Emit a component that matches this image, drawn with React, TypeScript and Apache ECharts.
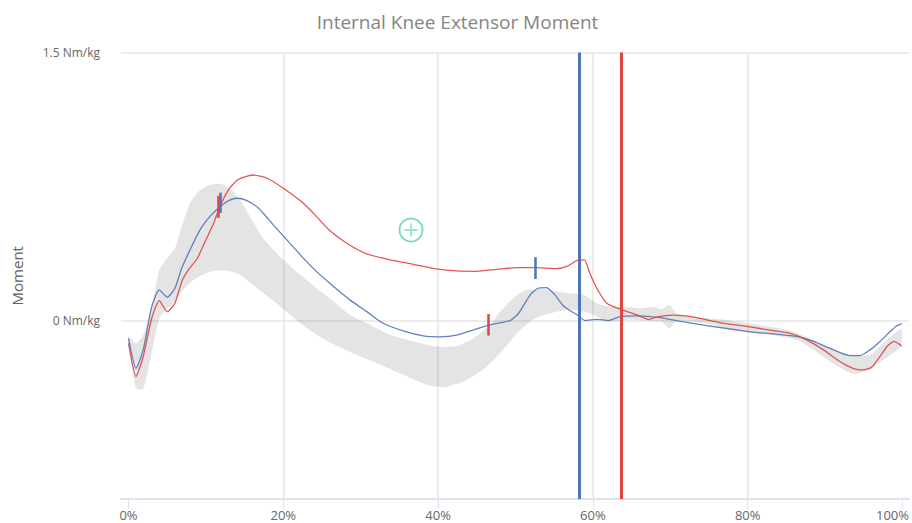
import React, { useEffect, useRef } from "react";
import * as echarts from "echarts";

const chartTitle = "Internal Knee Extensor Moment";
const yTitle = "Moment";
const xTicks = [0, 20, 40, 60, 80, 100];
const xLabelValues = [0, 20, 40, 60, 80];
const lastXLabel = "100%";
const yLabelValues = [0, 1.5];
const yGridValues = [-1, 0, 1.5];

const blueX = [0, 0.97, 1.9, 3, 3.98, 5, 6, 6.87, 7.95, 9.24, 10.5, 11.6, 12.7, 14, 15.3, 16.8, 19.1, 22.2, 24.3, 26, 28.6, 30.8, 32.9, 35.5, 38.1, 40.2, 42.4, 44.6, 46.5, 49.3, 50.4, 51.9, 52.9, 54, 55.1, 56.2, 58.1, 59, 60.5, 62, 63.5, 65.7, 68.7, 71.3, 74.7, 79.9, 83.3, 86.3, 88.5, 91.1, 93.2, 94.5, 95.8, 97.1, 98.4, 99.2, 99.9];
const blueY = [-0.1, -0.268, -0.165, 0.077, 0.171, 0.13, 0.18, 0.292, 0.395, 0.507, 0.581, 0.628, 0.665, 0.684, 0.671, 0.628, 0.516, 0.367, 0.273, 0.208, 0.115, 0.049, -0.016, -0.059, -0.087, -0.092, -0.083, -0.053, -0.027, -0.001, 0.04, 0.143, 0.18, 0.184, 0.143, 0.081, 0.027, -0.001, 0.006, -0.001, 0.021, 0.025, 0.016, -0.006, -0.029, -0.061, -0.076, -0.09, -0.118, -0.165, -0.197, -0.197, -0.165, -0.118, -0.062, -0.031, -0.018];

const redX = [0, 0.97, 1.9, 3, 3.98, 5, 6, 6.87, 7.73, 8.9, 9.9, 11, 11.8, 12.9, 14.2, 16.1, 17.9, 20, 22.6, 24.3, 26, 28.2, 30.8, 33.8, 36.8, 39.8, 42.4, 45, 47.6, 50.2, 52.7, 55.3, 56.8, 57.9, 58.9, 59.6, 60.5, 61.8, 63.5, 65.7, 67.2, 68.2, 70.4, 73, 76.4, 79.9, 83.3, 85.5, 87.6, 89.8, 91.9, 93.6, 94.9, 96, 97.1, 98, 98.9, 99.9];
const redY = [-0.128, -0.314, -0.202, 0.012, 0.111, 0.049, 0.096, 0.217, 0.283, 0.348, 0.441, 0.544, 0.637, 0.73, 0.79, 0.814, 0.796, 0.74, 0.656, 0.581, 0.503, 0.432, 0.372, 0.339, 0.314, 0.288, 0.277, 0.275, 0.286, 0.296, 0.296, 0.29, 0.305, 0.335, 0.339, 0.264, 0.18, 0.096, 0.063, 0.031, 0.006, 0.018, 0.029, 0.018, -0.012, -0.034, -0.057, -0.072, -0.109, -0.165, -0.23, -0.268, -0.277, -0.262, -0.202, -0.146, -0.118, -0.143];

const bandUpperX = [0, 0.97, 1.9, 3, 3.98, 5.15, 6, 6.87, 7.95, 9, 10.5, 12, 13.3, 14.4, 15.7, 17.4, 19.6, 22.2, 24.3, 26, 28.6, 31.2, 33.8, 36.8, 39.8, 42.4, 44.6, 46.7, 48, 49.7, 51.4, 53.6, 56.2, 58.8, 60.5, 62.2, 64.8, 66.1, 67.8, 68.9, 69.9, 70.8, 73, 76.4, 79.9, 83.3, 85.9, 88, 90.6, 93.2, 95.8, 97.5, 99.8];
const bandUpperY = [-0.09, -0.128, -0.081, 0.077, 0.283, 0.357, 0.404, 0.525, 0.656, 0.721, 0.758, 0.764, 0.73, 0.674, 0.581, 0.46, 0.357, 0.255, 0.18, 0.124, 0.031, -0.025, -0.081, -0.118, -0.146, -0.143, -0.1, -0.025, 0.049, 0.124, 0.171, 0.174, 0.156, 0.143, 0.096, 0.077, 0.074, 0.068, 0.077, 0.063, 0.087, 0.04, 0.021, 0.006, -0.016, -0.038, -0.062, -0.1, -0.156, -0.193, -0.193, -0.128, -0.049];

const bandLowerX = [0, 0.97, 1.9, 2.8, 4.07, 5.8, 6.87, 8.4, 10.5, 12.7, 14.4, 16.6, 19.1, 22.2, 24.3, 26, 29, 32.1, 35.5, 38.5, 40.7, 43.3, 45.8, 48, 50.2, 52.3, 54.5, 57, 59.6, 61.8, 64.8, 66.1, 67.8, 68.9, 69.9, 70.8, 73, 76.4, 79.9, 83.3, 86.3, 88.5, 90.6, 93.6, 95.8, 97.5, 99.8];
const bandLowerY = [-0.137, -0.38, -0.385, -0.221, 0.021, 0.096, 0.161, 0.227, 0.273, 0.279, 0.255, 0.18, 0.096, -0.016, -0.081, -0.124, -0.184, -0.24, -0.305, -0.361, -0.374, -0.342, -0.277, -0.184, -0.072, 0.006, 0.04, 0.059, 0.04, -0.006, 0.003, -0.001, -0.006, -0.006, -0.044, -0.006, -0.006, -0.034, -0.068, -0.083, -0.109, -0.165, -0.23, -0.299, -0.277, -0.221, -0.146];

const blueCursor = 58.2;
const redCursor = 63.7;
const blueMarks = [
  { x: 11.8, from: 0.602, to: 0.715 },
  { x: 52.6, from: 0.232, to: 0.354 },
];
const redMarks = [
  { x: 11.6, from: 0.574, to: 0.697 },
  { x: 46.5, from: -0.085, to: 0.036 },
];
const addPoint = [36.5, 0.506];

const BLUE = "#4f74b8";
const RED = "#e2443f";
const zip = (xs: number[], ys: number[]) => xs.map((x, i) => [x, ys[i]]);
const markData = (marks: { x: number; from: number; to: number }[]) =>
  marks.map((m) => [{ coord: [m.x, m.from] }, { coord: [m.x, m.to] }]);

export default function App() {
  const ref = useRef<HTMLDivElement>(null);
  useEffect(() => {
    const chart = echarts.init(ref.current!, null, { renderer: "svg" });
    const bandPoints = [...zip(bandUpperX, bandUpperY), ...zip(bandLowerX, bandLowerY).reverse()];
    const lineOf = (name: string, xs: number[], ys: number[], color: string, marks: any[], cursor: number) => ({
      name,
      type: "line",
      data: zip(xs, ys),
      showSymbol: false,
      smooth: 0.2,
      silent: true,
      z: 4,
      lineStyle: { color, width: 1.3, opacity: 0.9 },
      markLine: {
        silent: true,
        symbol: "none",
        animation: false,
        label: { show: false },
        lineStyle: { type: "solid", color },
        data: [
          ...markData(marks).map((d) => d.map((e, i) => (i === 0 ? { ...e, lineStyle: { width: 2.5, color, type: "solid" } } : e))),
          { xAxis: cursor, lineStyle: { width: 3, color, type: "solid" } },
        ],
      },
    });
    chart.setOption({
      animation: false,
      backgroundColor: "#ffffff",
      title: {
        text: chartTitle,
        left: 452.5,
        top: 7,
        textAlign: "center",
        textStyle: { color: "#858585", fontFamily: "Open Sans", fontSize: 19, fontWeight: "normal" },
      },
      graphic: [
        {
          type: "text",
          x: 909,
          y: 508,
          style: { text: lastXLabel, textAlign: "right", fill: "#666666", font: "13px 'Open Sans'" },
        },
      ],
      grid: { left: 121, right: 3, top: 52.5, bottom: 24, outerBoundsMode: "none" },
      xAxis: {
        type: "value",
        min: -0.97,
        max: 100.84,
        axisLine: { show: true, onZero: false, lineStyle: { color: "#dce3f0", width: 2 } },
        axisTick: { show: true, length: 10, customValues: xTicks, lineStyle: { color: "#dce3f0", width: 1 } },
        axisLabel: {
          customValues: xLabelValues,
          formatter: (v: number) => `${v}%`,
          color: "#666666",
          fontFamily: "Open Sans",
          fontSize: 13,
          margin: 9,
          showMinLabel: true,
          showMaxLabel: true,
        },
        splitLine: { show: true, showMinLine: false, showMaxLine: false, lineStyle: { color: "#e6e6e6", width: 1.5 } },
      },
      yAxis: {
        type: "value",
        min: -1,
        max: 1.5,
        name: yTitle,
        nameLocation: "middle",
        nameGap: 97,
        nameRotate: 90,
        nameTextStyle: { color: "#5f5f5f", fontFamily: "Open Sans", fontSize: 15 },
        axisLine: { show: false },
        axisTick: { show: false, customValues: yGridValues },
        axisLabel: {
          customValues: yLabelValues,
          formatter: (v: number) => `${v} Nm/kg`,
          color: "#666666",
          fontFamily: "Open Sans",
          fontSize: 12,
          margin: 21,
          showMinLabel: true,
          showMaxLabel: true,
        },
        splitLine: { show: true, showMinLine: false, lineStyle: { color: "#e6e6e6", width: 1.5 } },
      },
      series: [
        {
          name: "Normal band",
          type: "custom",
          silent: true,
          z: 2,
          data: [addPoint],
          renderItem: (_p: any, api: any) => ({
            type: "polygon",
            shape: { points: bandPoints.map((p) => api.coord(p)), smooth: 0.2 },
            style: { fill: "rgba(0,0,0,0.105)" },
          }),
        },
        lineOf("Blue", blueX, blueY, BLUE, blueMarks, blueCursor),
        lineOf("Red", redX, redY, RED, redMarks, redCursor),
        {
          name: "Add ring",
          type: "scatter",
          silent: true,
          z: 5,
          data: [addPoint],
          symbol: "circle",
          symbolSize: 23,
          itemStyle: { color: "rgba(255,255,255,0)", borderColor: "#55d0a6", borderWidth: 1.8 },
        },
        {
          name: "Add plus",
          type: "scatter",
          silent: true,
          z: 5,
          data: [addPoint],
          symbol: "path://M6 0H8V6H14V8H8V14H6V8H0V6H6Z",
          symbolSize: 13,
          itemStyle: { color: "#85e0bf" },
        },
      ],
    });
    return () => chart.dispose();
  }, []);
  return <div ref={ref} style={{ position: "fixed", left: 0, top: 0, width: 912, height: 523 }} />;
}
